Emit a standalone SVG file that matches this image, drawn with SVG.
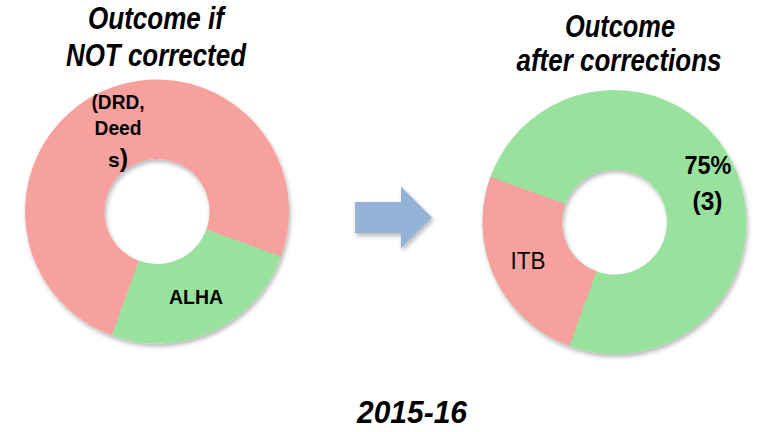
<svg xmlns="http://www.w3.org/2000/svg" width="760" height="432" viewBox="0 0 760 432">
<style>
.title{font-family:"Liberation Sans",Arial,sans-serif;font-weight:bold;font-style:italic;font-size:30.5px;fill:#000;text-anchor:middle}
.lbl{font-family:"Liberation Sans",Arial,sans-serif;font-weight:bold;fill:#000;text-anchor:middle}
.reg{font-family:"Liberation Sans",Arial,sans-serif;fill:#000;text-anchor:middle}
.red{fill:#F7A19F}
.green{fill:#98E29D}
</style>
<defs>
<filter id="sh" x="-10%" y="-10%" width="125%" height="125%">
<feDropShadow dx="1.5" dy="3" stdDeviation="2" flood-color="#000" flood-opacity="0.28"/>
</filter>
</defs>
<rect width="760" height="432" fill="#fff"/>
<g id="before">
<text class="title" x="156" y="29" textLength="136" lengthAdjust="spacingAndGlyphs">Outcome if</text>
<text class="title" x="156" y="65.5" textLength="180" lengthAdjust="spacingAndGlyphs">NOT corrected</text>
<g filter="url(#sh)">
<path class="red" d="M111.86 335.54 A132 132 0 1 1 281.04 256.64 L206.33 229.46 A52.5 52.5 0 1 0 139.04 260.83 Z"/>
<path class="green" d="M281.04 256.64 A132 132 0 0 1 111.86 335.54 L139.04 260.83 A52.5 52.5 0 0 0 206.33 229.46 Z"/>
</g>
<text class="lbl" x="118" y="108.5" font-size="21" textLength="53" lengthAdjust="spacingAndGlyphs">(DRD,</text>
<text class="lbl" x="118" y="134.5" font-size="21" textLength="47" lengthAdjust="spacingAndGlyphs">Deed</text>
<text class="lbl" x="118" y="167" font-size="21">s<tspan font-size="25">)</tspan></text>
<text class="lbl" x="196" y="303.5" font-size="21" textLength="54" lengthAdjust="spacingAndGlyphs">ALHA</text>
</g>
<g id="connectors">
<polygon points="355,202 401,202 401,186.5 432,217.5 401,248.5 401,233 355,233" fill="#95B3D7" filter="url(#sh)"/>
</g>
<g id="after">
<text class="title" x="620" y="37" textLength="110" lengthAdjust="spacingAndGlyphs">Outcome</text>
<text class="title" x="619" y="71" textLength="205" lengthAdjust="spacingAndGlyphs">after corrections</text>
<g filter="url(#sh)">
<path class="green" fill-rule="evenodd" d="M482.5 222 A132 132 0 1 0 746.5 222 A132 132 0 1 0 482.5 222 Z M562 222 A52.5 52.5 0 1 0 667 222 A52.5 52.5 0 1 0 562 222 Z"/>
<path class="red" d="M569.36 346.04 A132 132 0 0 1 490.46 176.86 L565.17 204.04 A52.5 52.5 0 0 0 596.54 271.33 Z"/>
</g>
<text class="reg" x="528" y="268.5" font-size="24.5" textLength="35" lengthAdjust="spacingAndGlyphs">ITB</text>
<text class="lbl" x="708" y="173.5" font-size="26" textLength="47" lengthAdjust="spacingAndGlyphs">75%</text>
<text class="lbl" x="707.5" y="209.5" font-size="26" textLength="30" lengthAdjust="spacingAndGlyphs">(3)</text>
</g>
<g id="year">
<text class="title" x="412" y="423" font-size="34" textLength="110" lengthAdjust="spacingAndGlyphs">2015-16</text>
</g>
</svg>
